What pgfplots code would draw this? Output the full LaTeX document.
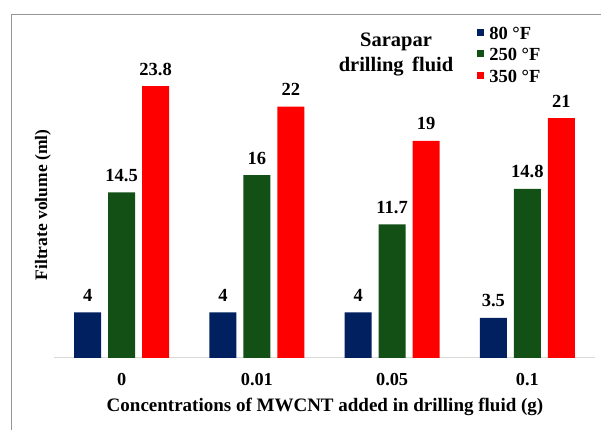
\documentclass[border=0pt]{standalone}
\usepackage{fontspec}
\setmainfont{Liberation Serif}
\usepackage{pgfplots}
\pgfplotsset{compat=1.18}
\definecolor{navyb}{RGB}{0,32,96}
\definecolor{greenb}{RGB}{18,80,22}
\definecolor{redb}{RGB}{255,0,0}
\definecolor{framegray}{RGB}{150,150,150}
\definecolor{axgray}{RGB}{217,217,217}
\begin{document}
\begin{tikzpicture}[x=1pt,y=1pt]
\useasboundingbox (0,0) rectangle (601,430);
\draw[framegray, line width=1pt] (11,-5) -- (11,415) -- (610,415);
\begin{axis}[
 at={(54pt,72pt)}, anchor=south west,
 scale only axis, width=541pt, height=285.7pt,
 xmin=-0.5, xmax=3.5, ymin=0, ymax=25,
 ybar=7pt, bar width=27pt,
 axis x line*=bottom, axis y line=none,
 x axis line style={draw=axgray, line width=1pt, -},
 xtick={0,1,2,3}, xticklabels={0,0.01,0.05,0.1},
 major tick length=0pt,
 xticklabel style={anchor=center, yshift=-22pt, font=\bfseries\fontsize{18.3}{20}\selectfont},
 ytick=\empty,
 clip=false,
 nodes near coords,
 /pgf/number format/assume math mode=true,
 nodes near coords style={anchor=center, yshift=17pt, font=\bfseries\fontsize{18.5}{20}\selectfont, text=black},
 legend image code/.code={\fill[#1] (0pt,-3pt) rectangle (7pt,4pt);},
 legend style={draw=none, fill=none, at={(0.782,1.1615)}, anchor=north west,
   font=\bfseries\fontsize{18.5}{20}\selectfont, row sep=8.5pt, column sep=5pt, inner sep=0pt,
   nodes={inner sep=0pt, text height=13pt, text depth=0pt}},
 legend cell align=left,
]
\addplot[fill=navyb, draw=none] coordinates {(0,4) (1,4) (2,4) (3,3.5)};
\addplot[fill=greenb, draw=none] coordinates {(0,14.5) (1,16) (2,11.7) (3,14.8)};
\addplot[fill=redb, draw=none] coordinates {(0,23.8) (1,22) (2,19) (3,21)};
\legend{80 °F, 250 °F, 350 °F}
\end{axis}
\node[font=\bfseries\fontsize{20.5}{22}\selectfont] at (396,388) {Sarapar};
\node[font=\bfseries\fontsize{20.5}{22}\selectfont] at (396,363) {drilling\, fluid};
\node[font=\bfseries\fontsize{17.5}{20}\selectfont, rotate=90] at (43,225) {Filtrate volume (ml)};
\node[font=\bfseries\fontsize{19}{20}\selectfont] at (325,23) {Concentrations of MWCNT added in drilling fluid (g)};
\end{tikzpicture}
\end{document}
